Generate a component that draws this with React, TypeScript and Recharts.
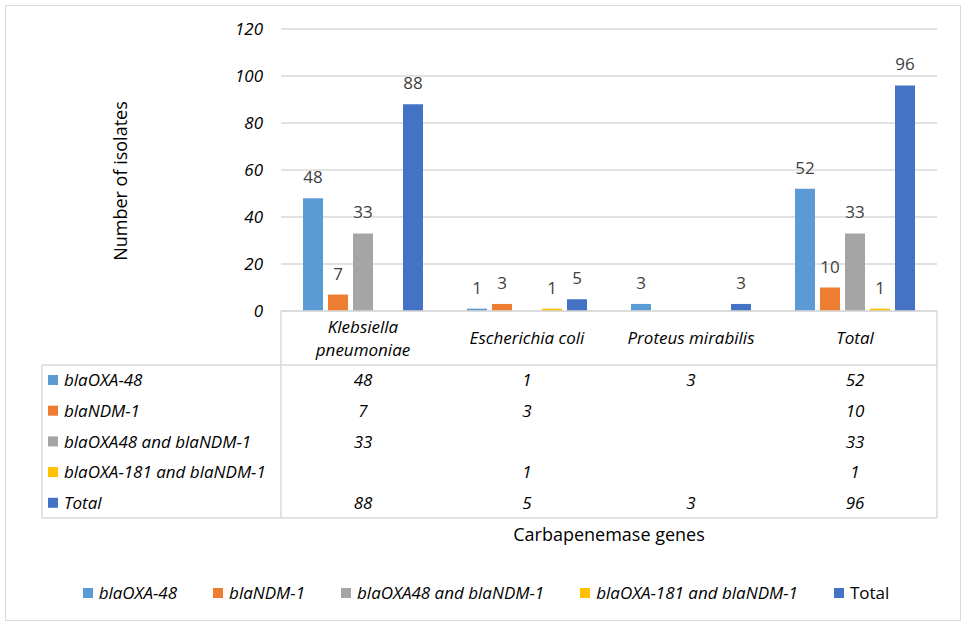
import React from "react"
import { BarChart, Bar, XAxis, YAxis, CartesianGrid, LabelList, Legend } from "recharts"

const categories = ["Klebsiella pneumoniae", "Escherichia coli", "Proteus mirabilis", "Total"]
const seriesNames = ["blaOXA-48", "blaNDM-1", "blaOXA48 and blaNDM-1", "blaOXA-181 and blaNDM-1", "Total"]
const seriesColors = ["#5B9BD5", "#ED7D31", "#A5A5A5", "#FFC000", "#4472C4"]

const oxa48 = [48, 1, 3, 52]
const ndm1 = [7, 3, null, 10]
const oxa48AndNdm1 = [33, null, null, 33]
const oxa181AndNdm1 = [null, 1, null, 1]
const totals = [88, 5, 3, 96]

const yTicks = [0, 20, 40, 60, 80, 100, 120]

const seriesValues = [oxa48, ndm1, oxa48AndNdm1, oxa181AndNdm1, totals]
const data = categories.map((name, i) => {
  const row: Record<string, string | number | null> = { name }
  seriesValues.forEach((arr, s) => { row[`s${s}`] = arr[i] })
  return row
})

const GRID = "#d9d9d9"
const FONT = 17
const TABLE_LEFT = 42
const PLOT_LEFT = 281
const PLOT_RIGHT = 937
const HEADER_H = 54
const ROW_H = 30.7
const TABLE_H = 207

// long category names wrap onto two lines, like Excel's data table header
const headerLines = (name: string) => (name.length > 18 ? name.split(" ") : [name])

function TableTick(props: any) {
  const { x, y, payload, index } = props
  const lines = headerLines(String(payload.value))
  return (
    <g>
      {index === 0 && (
        <g stroke={GRID} strokeWidth={1.5}>
          <line x1={TABLE_LEFT} x2={PLOT_RIGHT} y1={y + HEADER_H} y2={y + HEADER_H} />
          <line x1={TABLE_LEFT} x2={PLOT_RIGHT} y1={y + TABLE_H} y2={y + TABLE_H} />
          <line x1={TABLE_LEFT} x2={TABLE_LEFT} y1={y + HEADER_H} y2={y + TABLE_H} />
          <line x1={PLOT_LEFT} x2={PLOT_LEFT} y1={y} y2={y + TABLE_H} />
          <line x1={PLOT_RIGHT} x2={PLOT_RIGHT} y1={y} y2={y + TABLE_H} />
        </g>
      )}
      {index === 0 && seriesNames.map((n, s) => {
        const cy = y + HEADER_H + 15 + s * ROW_H
        return (
          <g key={n}>
            <rect x={TABLE_LEFT + 6} y={cy - 5} width={10} height={10} fill={seriesColors[s]} />
            <text x={TABLE_LEFT + 22} y={cy} dy="0.36em" fontSize={FONT} fontStyle="italic" fill="#000">{n}</text>
          </g>
        )
      })}
      {lines.map((ln, j) => (
        <text key={j} x={x} y={y + 27 + (j - (lines.length - 1) / 2) * 23} dy="0.36em" textAnchor="middle"
          fontSize={FONT} fontStyle="italic" fill="#000">{ln}</text>
      ))}
      {seriesValues.map((arr, s) => arr[index] == null ? null : (
        <text key={s} x={x} y={y + HEADER_H + 15 + s * ROW_H} dy="0.36em" textAnchor="middle"
          fontSize={FONT} fontStyle="italic" fill="#000">{arr[index]}</text>
      ))}
    </g>
  )
}

function LegendContent() {
  return (
    <div style={{ display: "flex", justifyContent: "center", alignItems: "center", fontSize: FONT, color: "#000" }}>
      {seriesNames.map((n, i) => (
        <div key={n} style={{ display: "flex", alignItems: "center", marginRight: i < seriesNames.length - 1 ? 36 : 0 }}>
          <span style={{ display: "inline-block", width: 10, height: 10, background: seriesColors[i], marginRight: 6 }} />
          <span style={{ fontStyle: n === "Total" ? "normal" : "italic" }}>{n}</span>
        </div>
      ))}
    </div>
  )
}

export default function App() {
  return (
    <div style={{ position: "absolute", left: 0, top: 0, width: 962, height: 623, background: "#fff", fontFamily: "\"Open Sans\", sans-serif" }}>
      <div style={{ position: "absolute", left: 5, top: 5, width: 956, height: 616, border: `1.5px solid ${GRID}`, boxSizing: "border-box" }} />
      <BarChart width={962} height={623} data={data} barGap={5} margin={{ top: 29, right: 25, left: 0, bottom: 105 }}>
        <CartesianGrid horizontal vertical={false} stroke={GRID} strokeWidth={1.5} />
        <XAxis dataKey="name" height={TABLE_H} interval={0} tickSize={0} tickMargin={0} tickLine={false}
          axisLine={{ stroke: GRID, strokeWidth: 1.5 }} tick={(p: any) => <TableTick {...p} />}
          label={{ value: "Carbapenemase genes", position: "bottom", offset: 10, fontSize: 18, fill: "#000" }} />
        <YAxis width={PLOT_LEFT} domain={[0, 120]} ticks={yTicks} axisLine={false} tickLine={false} tickSize={0} tickMargin={18}
          tick={({ x, y, payload }: any) => (
            <text x={x} y={y} dy="0.36em" textAnchor="end" fontSize={FONT} fontStyle="italic" fill="#000">{payload.value}</text>
          )}
          label={{
            content: () => (
              <text x={127} y={181} transform="rotate(-90 127 181)" textAnchor="middle" fontSize={18} fill="#000">Number of isolates</text>
            ),
          }} />
        <Legend layout="horizontal" verticalAlign="middle" align="center" content={<LegendContent />}
          wrapperStyle={{ top: 581, left: 5, width: 962 }} />
        {seriesNames.map((n, s) => (
          <Bar key={n} dataKey={`s${s}`} name={n} fill={seriesColors[s]} barSize={20} isAnimationActive={false}>
            <LabelList dataKey={`s${s}`} position="top" offset={15} fontSize={FONT} fill="#404040"
              formatter={(v: any) => (v == null ? "" : v)} />
          </Bar>
        ))}
      </BarChart>
    </div>
  )
}
